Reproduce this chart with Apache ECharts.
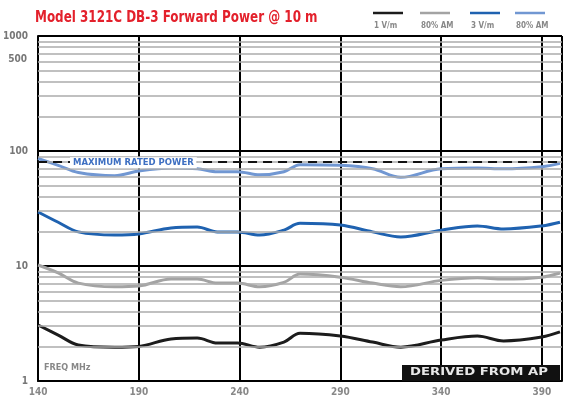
<!DOCTYPE html>
<html><head><meta charset="utf-8">
<script src="https://cdn.jsdelivr.net/npm/echarts@6/dist/echarts.min.js"></script>
<style>html,body{margin:0;padding:0;background:#fff}#c{width:563px;height:400px}</style>
</head><body><div id="c"></div>
<script>
var freqs = [140,150,160,178,190,206,219,229,239,250,262,270,290,306,320,340,358,371,390,399];
var oneVm     = [3.07,2.51,2.06,1.97,2.0,2.32,2.36,2.14,2.14,1.97,2.18,2.6,2.46,2.18,1.97,2.27,2.46,2.23,2.41,2.67];
var oneVmAM   = [10.2,8.7,7.1,6.6,6.7,7.7,7.7,7.1,7.1,6.6,7.2,8.5,8.0,7.1,6.6,7.5,7.9,7.7,8.0,8.7];
var threeVm   = [29.5,24,19.8,18.6,19.0,21.4,21.8,19.8,19.8,18.6,20.5,23.5,22.7,19.8,17.9,20.5,22.3,21,22.3,24];
var threeVmAM = [86,75,65,61,67,71,70,66,66,62,66,76,75,70,59,70,71,70,73,78];
var xTicks = [140,190,240,290,340,390];
var yTicks = [1,10,100,1000];
var minorLines = [2,3,4,5,6,7,8,9,20,30,40,50,60,70,80,90,200,300,400,500,600,700,800,900];
var maxRated = 80;
var title = 'Model 3121C DB-3 Forward Power @ 10 m';
var legendNames = ['1 V/m','80% AM','3 V/m','80% AM'];
var colors = ['#1c1c1c','#a3a3a3','#1f62b0','#7197d2'];

function pairs(v){ return freqs.map(function(f,i){return [f,v[i]];}); }
var chart = echarts.init(document.getElementById('c'));
var cond = '"Liberation Sans Narrow","DejaVu Sans Condensed",sans-serif';
var seriesVals = [oneVm, oneVmAM, threeVm, threeVmAM];
var series = [{
  type:'line', z:1, data:[], silent:true,
  markLine:{silent:true, symbol:'none', animation:false,
    label:{show:false},
    lineStyle:{color:'#ababab', width:1.5, type:'solid'},
    data: minorLines.map(function(v){return {yAxis:v};}).concat([
      {yAxis:maxRated, lineStyle:{color:'#111', width:2.2, type:[9,6]}}
    ])}
}];
seriesVals.forEach(function(v,i){
  series.push({type:'line', name:legendNames[i], data:pairs(v), smooth:0.35, symbol:'none', z:3,
    lineStyle:{color:colors[i], width:3}});
});
chart.setOption({
  animation:false,
  grid:{left:37, width:525, top:36, height:345},
  xAxis:{type:'value', min:140, max:400, interval:50,
    axisLine:{lineStyle:{color:'#000', width:2}}, axisTick:{show:false},
    axisLabel:{showMaxLabel:false, color:'#888', fontWeight:'bold', fontSize:10, fontFamily:cond, margin:6},
    splitLine:{show:true, lineStyle:{color:'#000', width:2}}},
  yAxis:{type:'log', min:1, max:1000, logBase:10,
    axisLine:{show:true, lineStyle:{color:'#000', width:2}}, axisTick:{show:false},
    axisLabel:{color:'#777', fontWeight:'bold', fontSize:10, fontFamily:cond, margin:10,
      formatter:function(v){return yTicks.indexOf(Math.round(v))>=0 ? String(Math.round(v)) : '';}},
    splitLine:{show:true, lineStyle:{color:'#000', width:2}}},
  series: series
});
var yMR = chart.convertToPixel({yAxisIndex:0}, maxRated);
var y500 = chart.convertToPixel({yAxisIndex:0}, 620);
var g = [
  {type:'text', x:35, y:10, scaleX:0.83, style:{text:title, fill:'#e3202b', font:'bold 16px '+cond, textVerticalAlign:'top'}},
  {type:'text', x:70, y:yMR-5, z:10, style:{text:'MAXIMUM RATED POWER', fill:'#3d6fc2', font:'bold 8.5px "DejaVu Sans"', backgroundColor:'#fff', padding:[1,3], textVerticalAlign:'top'}},
  {type:'text', x:27, y:y500-5, style:{text:'500', fill:'#777', font:'bold 10px '+cond, textAlign:'right', textVerticalAlign:'top'}},
  {type:'text', x:44, y:363, style:{text:'FREQ MHz', fill:'#888', font:'bold 9px '+cond, textVerticalAlign:'top'}},
  {type:'rect', shape:{x:402, y:365, width:158, height:16}, style:{fill:'#111'}, z:10},
  {type:'text', x:410, y:367, scaleX:1.2, z:11, style:{text:'DERIVED FROM AP', fill:'#e8e8e8', font:'bold 11px "DejaVu Sans"', textVerticalAlign:'top'}}
];
var lx = [373,420,470,515];
lx.forEach(function(x,i){
  g.push({type:'line', shape:{x1:x, y1:13, x2:x+30, y2:13}, style:{stroke:colors[i], lineWidth:2.5}});
  g.push({type:'text', x:x+1, y:22, style:{text:legendNames[i], fill:'#888', font:'bold 8px '+cond, textVerticalAlign:'top'}});
});
chart.setOption({graphic:g});
</script></body></html>
